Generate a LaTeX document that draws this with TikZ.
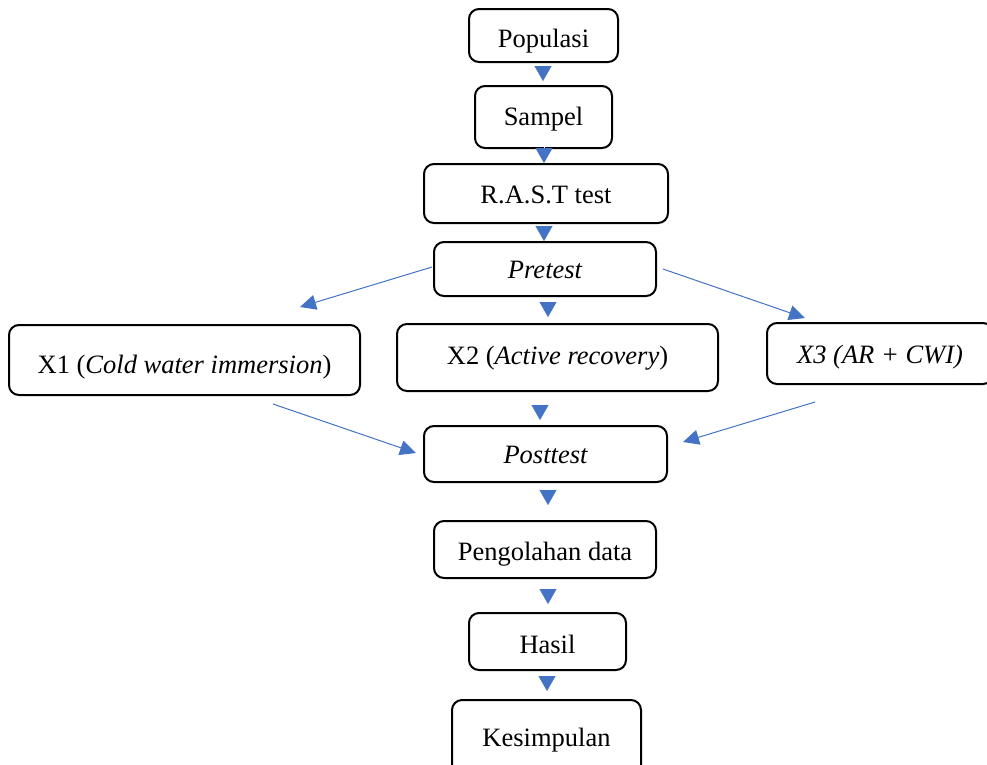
\documentclass[tikz,border=0pt]{standalone}
\usepackage{fontspec}
\setmainfont{Liberation Serif}
\usetikzlibrary{arrows.meta}
\definecolor{arrowblue}{HTML}{4472C4}
\begin{document}
\begin{tikzpicture}[x=1pt,y=-1pt,
  box/.style={draw=black, line width=2pt, rounded corners=10pt, inner sep=0pt, align=center,
    text height=24pt, text depth=5pt, font=\fontsize{26.5}{30}\selectfont},
  stub/.style={draw=white, line width=0.4pt, shorten <=3pt, -{Triangle[color=arrowblue,length=15pt,width=17pt]}},
  diag/.style={draw=arrowblue, line width=1pt, -{Triangle[length=16pt,width=15pt]}},
]
\useasboundingbox (0,0) rectangle (987,764);
\clip (0,0) rectangle (987,764);

\node[box, text height=28pt, minimum width=149pt, minimum height=53pt] (pop)   at (543.5,35.5) {Populasi};
\node[box, text height=21pt, minimum width=137pt, minimum height=62pt] (samp)  at (543.5,117)  {Sampel};
\node[box, minimum width=244pt, minimum height=59pt] (rast)  at (546,193.5)  {R.A.S.T test};
\node[box, minimum width=222pt, minimum height=54pt] (pre)   at (545,269)    {\itshape Pretest};
\node[box, text height=31pt, minimum width=351pt, minimum height=70pt] (x1)    at (184.5,360)  {X1 (\textit{Cold water immersion})};
\node[box, text height=18pt, minimum width=321pt, minimum height=67pt] (x2)    at (557.5,357.5){X2 (\textit{Active recovery})};
\node[box, minimum width=226pt, minimum height=61pt] (x3)    at (880,353.5)  {\itshape X3 (AR + CWI)};
\node[box, minimum width=243pt, minimum height=56pt] (post)  at (545.5,454)  {\itshape Posttest};
\node[box, text height=26pt, minimum width=222pt, minimum height=57pt] (peng)  at (545,549.5)  {Pengolahan data};
\node[box, text height=28pt, minimum width=157pt, minimum height=57pt] (hasil) at (547.5,641.5){Hasil};
\node[box, text height=21pt, minimum width=189pt, minimum height=76pt] (kes)   at (546.5,738)  {Kesimpulan};

% short vertical arrows (tips only)
\draw[stub, shorten >=4pt] ([xshift=-0.5pt]pop.south) -- ([xshift=-0.5pt]samp.north);
\draw[stub, shorten >=0pt] ([xshift=0.5pt]samp.south) -- ([xshift=0.5pt]samp.south |- rast.north);
\draw[stub, shorten >=0pt] ([xshift=-2pt]rast.south) -- ([xshift=-1pt]pre.north);
\draw[stub, shorten >=6pt] ([xshift=3pt]pre.south) -- ([xshift=3pt]pre.south |- x2.north);
\draw[stub, shorten >=5pt] ([xshift=-5.5pt]post.north |- x2.south) -- ([xshift=-5.5pt]post.north);
\draw[stub, shorten >=15pt] ([xshift=2.5pt]post.south) -- ([xshift=3pt]peng.north);
\draw[stub, shorten >=8pt] ([xshift=3pt]peng.south) -- ([xshift=0.5pt]hasil.north);
\draw[stub, shorten >=8pt] ([xshift=-0.5pt]hasil.south) -- ([xshift=0.5pt]kes.north);

% diagonal arrows
\coordinate (preL) at (432,267);
\coordinate (toX1) at (300,307);
\coordinate (preR) at (663,269);
\coordinate (toX3) at (805,318);
\coordinate (x1out) at (273,404);
\coordinate (postL) at (416,453);
\coordinate (x3out) at (815,402);
\coordinate (postR) at (683,442);
\draw[diag] (preL) -- (toX1);
\draw[diag] (preR) -- (toX3);
\draw[diag] (x1out) -- (postL);
\draw[diag] (x3out) -- (postR);
\end{tikzpicture}
\end{document}
